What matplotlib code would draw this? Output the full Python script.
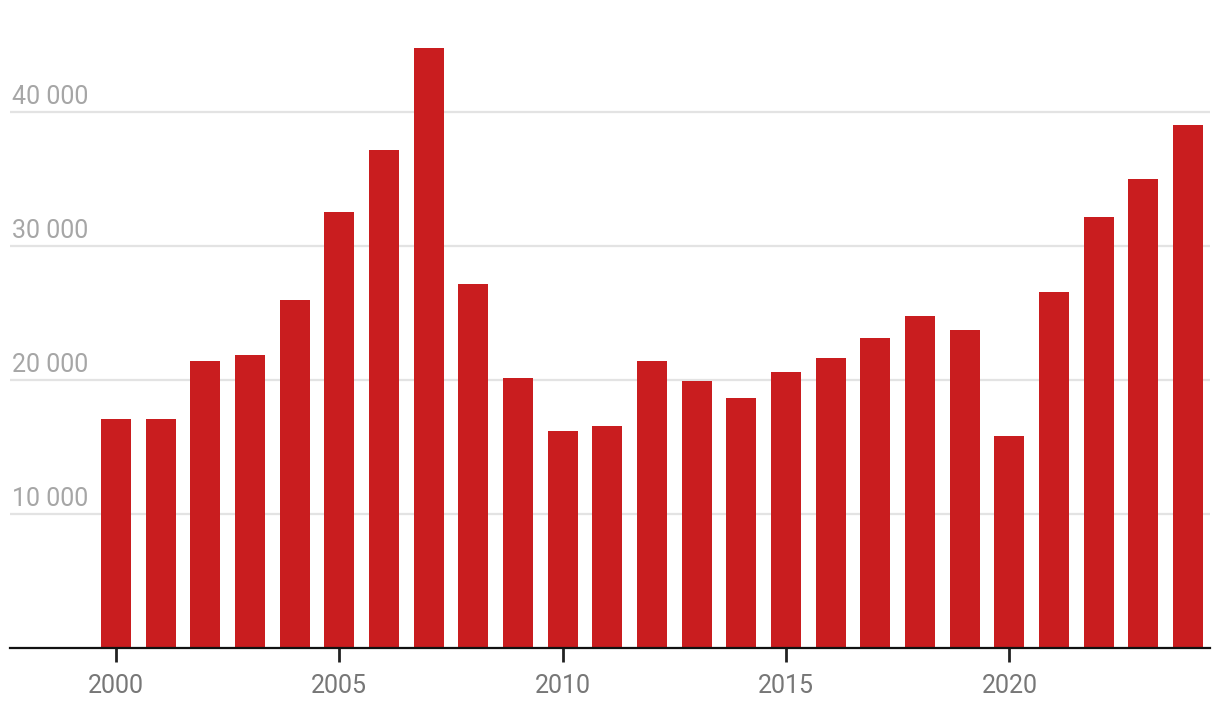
import matplotlib.pyplot as plt

years = list(range(2000, 2025))
values = [17100, 17100, 21400, 21900, 26000, 32500, 37200, 44800, 27200, 20150,
          16200, 16550, 21400, 19900, 18650, 20600, 21650, 23100, 24800, 23700,
          15800, 26550, 32150, 35000, 39000]
y_ticks = [10000, 20000, 30000, 40000]
y_labels = ["10 000", "20 000", "30 000", "40 000"]
x_ticks = [2000, 2005, 2010, 2015, 2020]

plt.rcParams["font.family"] = ["Roboto", "DejaVu Sans"]

fig = plt.figure(figsize=(12.2, 7.14), dpi=100)
ax = fig.add_axes([10 / 1220, 66 / 714, 1200 / 1220, 648 / 714])

ax.bar(years, values, width=0.67, color="#c91d1f", zorder=2)

ax.set_xlim(1997.63, 2024.49)
ax.set_ylim(0, 48358)

for t, lab in zip(y_ticks, y_labels):
    ax.axhline(t, color="#e3e3e3", lw=1.6, zorder=1)
    ax.text(1997.68, t + 250, lab, color="#a6a6a6", fontsize=18,
            ha="left", va="bottom")
ax.set_yticks([])

ax.set_xticks(x_ticks)
ax.set_xticklabels([str(x) for x in x_ticks], color="#777777", fontsize=18)
ax.tick_params(axis="x", length=10, width=2, color="#222222", pad=9)

for side in ["top", "right", "left"]:
    ax.spines[side].set_visible(False)
ax.spines["bottom"].set_color("#111111")
ax.spines["bottom"].set_linewidth(1.6)
ax.spines["bottom"].set_zorder(3)

fig.savefig("out.png", dpi=100)
